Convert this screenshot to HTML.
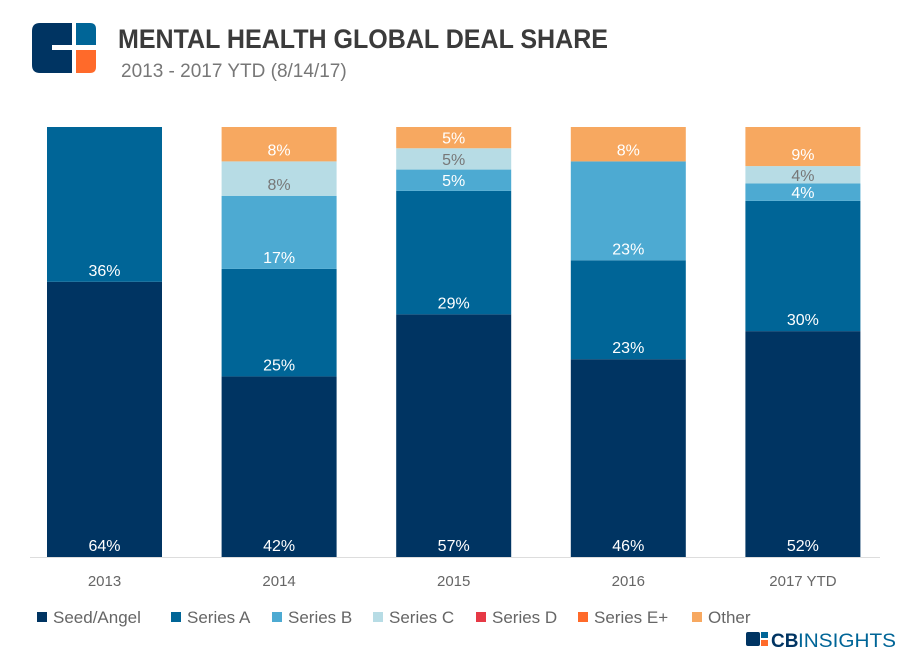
<!DOCTYPE html>
<html><head><meta charset="utf-8"><style>
body{margin:0;background:#fff;width:909px;height:659px;overflow:hidden;font-family:"Liberation Sans",sans-serif}
</style></head><body>
<svg width="909" height="659" xmlns="http://www.w3.org/2000/svg" id="chart">
<g>
<path d="M40,23 H72 V45 H52 V50 H72 V73 H40 Q32,73 32,65 V31 Q32,23 40,23 Z" fill="#003462"/>
<path d="M76,23 H90 Q96,23 96,29 V45 H76 Z" fill="#006597"/>
<path d="M76,50 H96 V67 Q96,73 90,73 H76 Z" fill="#ff6a2a"/>
</g>
<text x="118" y="48" font-size="27" font-weight="bold" fill="#3b3b3b" textLength="490" lengthAdjust="spacingAndGlyphs">MENTAL HEALTH GLOBAL DEAL SHARE</text>
<text x="121" y="77" font-size="19" fill="#777">2013 - 2017 YTD (8/14/17)</text>
<g id="bars"></g>
<g id="legend"></g>
<g>
<rect x="746" y="632" width="14" height="14" rx="2" fill="#003462"/>
<rect x="761" y="632" width="7" height="6" fill="#006597"/>
<rect x="761" y="640" width="7" height="6" fill="#ff6a2a"/>
<text x="771" y="647" font-size="19" font-weight="bold" fill="#003462">CB</text>
<text x="798" y="647" font-size="19" fill="#006597" textLength="98" lengthAdjust="spacingAndGlyphs">INSIGHTS</text>
</g>
</svg>
<script>
const categories=["2013","2014","2015","2016","2017 YTD"];
const seriesNames=["Seed/Angel","Series A","Series B","Series C","Series D","Series E+","Other"];
const seedAngel=[64,42,57,46,52];
const seriesA=[36,25,29,23,30];
const seriesB=[0,17,5,23,4];
const seriesC=[0,8,5,0,4];
const seriesD=[0,0,0,0,0];
const seriesE=[0,0,0,0,0];
const other=[0,8,5,8,9];
const series=[seedAngel,seriesA,seriesB,seriesC,seriesD,seriesE,other];
const colors=["#003462","#006597","#4daad2","#b7dce5","#e63946","#ff6a2a","#f7a860"];
const NS="http://www.w3.org/2000/svg";
const top0=127,bot=557,barW=115,x0=47,step=174.6;
const xPos=i=>x0+i*step;
const g=document.getElementById('bars');
categories.forEach((c,i)=>{
  let tot=series.reduce((s,a)=>s+a[i],0);
  const yScale=v=>(bot-top0)*v/tot;
  let y=bot;
  series.forEach((s,k)=>{
    const v=s[i]; if(!v) return;
    const h=yScale(v);
    const r=document.createElementNS(NS,'rect');
    
    
    r.setAttribute('x',xPos(i));r.setAttribute('y',y-h);r.setAttribute('width',barW);r.setAttribute('height',h);r.setAttribute('fill',colors[k]);
    g.appendChild(r);
    const t=document.createElementNS(NS,'text');
    
    
    t.setAttribute('x',xPos(i)+barW/2);t.setAttribute('y',y-(h<30?h/2-6:6));
    t.setAttribute('text-anchor','middle');t.setAttribute('font-size','16');
    t.setAttribute('fill',k==3?'#777':'#fff');
    t.textContent=v+'%';g.appendChild(t);
    y-=h;
  });
  const l=document.createElementNS(NS,'text');
  
  
  l.setAttribute('x',xPos(i)+barW/2);l.setAttribute('y',586);l.setAttribute('text-anchor','middle');
  l.setAttribute('font-size','15');l.setAttribute('fill','#666');l.textContent=c;g.appendChild(l);
});
const base=document.createElementNS(NS,'line');


base.setAttribute('x1',30);base.setAttribute('x2',880);base.setAttribute('y1',557.5);base.setAttribute('y2',557.5);base.setAttribute('stroke','#ddd');g.appendChild(base);
const lg=document.getElementById('legend');
const lx=[37,171,272,373,476,578,692];
seriesNames.forEach((n,k)=>{
  const r=document.createElementNS(NS,'rect');
  
  
  r.setAttribute('x',lx[k]);r.setAttribute('y',612);r.setAttribute('width',10);r.setAttribute('height',10);r.setAttribute('fill',colors[k]);lg.appendChild(r);
  const t=document.createElementNS(NS,'text');
  
  
  t.setAttribute('x',lx[k]+16);t.setAttribute('y',623);t.setAttribute('font-size','17');t.setAttribute('fill','#666');
  t.textContent=n;lg.appendChild(t);
});
</script>
</body></html>
